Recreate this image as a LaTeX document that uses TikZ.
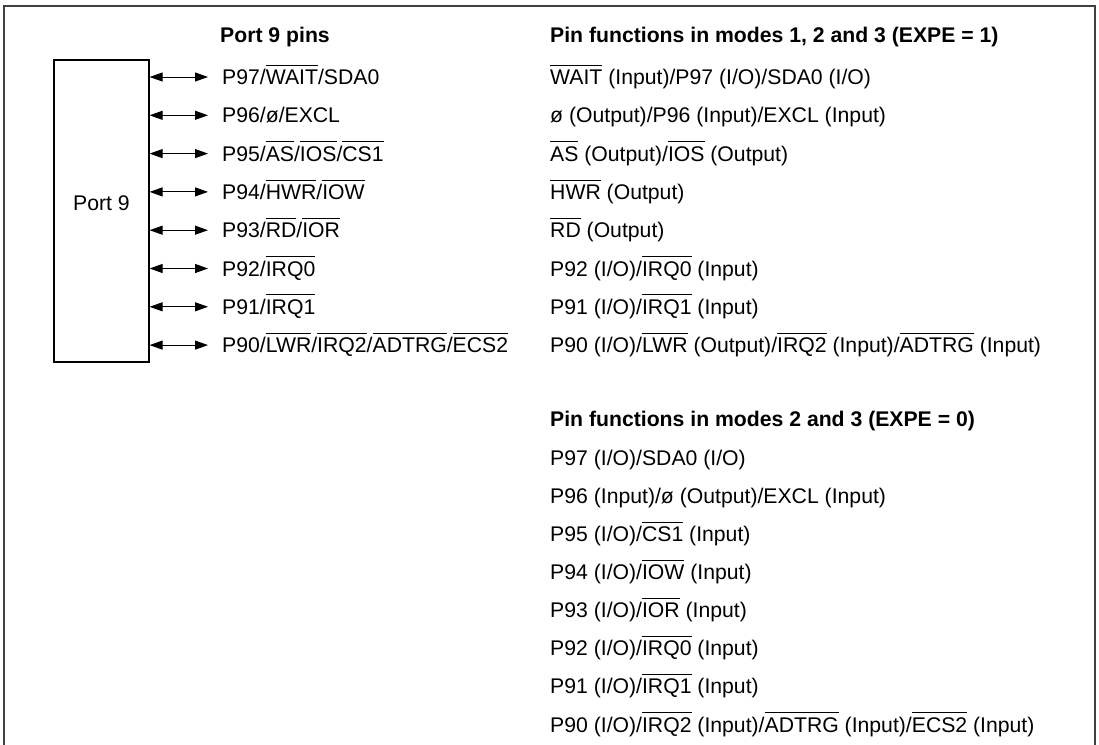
\documentclass[tikz,border=0pt]{standalone}
\usepackage{fontspec}
\setmainfont{Liberation Sans}
\usetikzlibrary{arrows.meta}
\newcommand\ovl[1]{\vbox{\hrule height 0.9pt\kern 4.2pt\hbox{#1}}}
\tikzset{
  txt/.style={anchor=base west, inner sep=0pt, text height=15pt, text depth=0pt,
    font=\fontsize{21.2}{25}\selectfont},
  hdr/.style={txt, font=\fontsize{21.2}{25}\selectfont\bfseries},
  biarrow/.style={{Triangle[length=13pt,width=9pt]}-{Triangle[length=13pt,width=9pt]}, line width=1pt, shorten >=14pt},
  portbox/.style={draw, line width=1.2pt, minimum width=95pt, minimum height=302pt, inner sep=0pt},
  frame/.style={draw=black!75, line width=1.8pt}
}
\begin{document}
\begin{tikzpicture}[x=1pt,y=-1pt]
\useasboundingbox (0,0) rectangle (1099,744);
\draw[frame] (4,750) -- (4,6) -- (1095,6) -- (1095,750);
\node[portbox] (box) at (101.5,211) {};
\node[font=\fontsize{21.2}{25}\selectfont, inner sep=0pt] (lbl) at (101.5,203) {Port 9};
% headers
\node[hdr] (h1) at (220,42) {Port 9 pins};
\node[hdr] (h2) at (550,42) {Pin functions in modes 1, 2 and 3 (EXPE = 1)};
% left pins
\node[txt] (l1) at (222,84.5) {P97/\ovl{WAIT}/SDA0};
\node[txt] (l2) at (222,122.8) {P96/ø/EXCL};
\node[txt] (l3) at (222,161.1) {P95/\ovl{AS}/\ovl{IOS}/\ovl{CS1}};
\node[txt] (l4) at (222,199.4) {P94/\ovl{HWR}/\ovl{IOW}};
\node[txt] (l5) at (222,237.7) {P93/\ovl{RD}/\ovl{IOR}};
\node[txt] (l6) at (222,276.0) {P92/\ovl{IRQ0}};
\node[txt] (l7) at (222,314.3) {P91/\ovl{IRQ1}};
\node[txt] (l8) at (222,352.6) {P90/\ovl{LWR}/\ovl{IRQ2}/\ovl{ADTRG}/\ovl{ECS2}};
\foreach \i in {1,...,8}{
  \draw[biarrow] (box.east |- l\i.west) -- (l\i.west);
}
% right, section 1
\node[txt] (a1) at (550,84.5) {\ovl{WAIT} (Input)/P97 (I/O)/SDA0 (I/O)};
\node[txt] (a2) at (550,122.8) {ø (Output)/P96 (Input)/EXCL (Input)};
\node[txt] (a3) at (550,161.1) {\ovl{AS} (Output)/\ovl{IOS} (Output)};
\node[txt] (a4) at (550,199.4) {\ovl{HWR} (Output)};
\node[txt] (a5) at (550,237.7) {\ovl{RD} (Output)};
\node[txt] (a6) at (550,276.0) {P92 (I/O)/\ovl{IRQ0} (Input)};
\node[txt] (a7) at (550,314.3) {P91 (I/O)/\ovl{IRQ1} (Input)};
\node[txt] (a8) at (550,352.6) {P90 (I/O)/\ovl{LWR} (Output)/\ovl{IRQ2} (Input)/\ovl{ADTRG} (Input)};
% right, section 2
\node[hdr] (h3) at (550,426.5) {Pin functions in modes 2 and 3 (EXPE = 0)};
\node[txt] (b1) at (550,465.3) {P97 (I/O)/SDA0 (I/O)};
\node[txt] (b2) at (550,503.4) {P96 (Input)/ø (Output)/EXCL (Input)};
\node[txt] (b3) at (550,541.5) {P95 (I/O)/\ovl{CS1} (Input)};
\node[txt] (b4) at (550,579.6) {P94 (I/O)/\ovl{IOW} (Input)};
\node[txt] (b5) at (550,617.7) {P93 (I/O)/\ovl{IOR} (Input)};
\node[txt] (b6) at (550,655.8) {P92 (I/O)/\ovl{IRQ0} (Input)};
\node[txt] (b7) at (550,693.9) {P91 (I/O)/\ovl{IRQ1} (Input)};
\node[txt] (b8) at (550,732.0) {P90 (I/O)/\ovl{IRQ2} (Input)/\ovl{ADTRG} (Input)/\ovl{ECS2} (Input)};
\end{tikzpicture}
\end{document}
